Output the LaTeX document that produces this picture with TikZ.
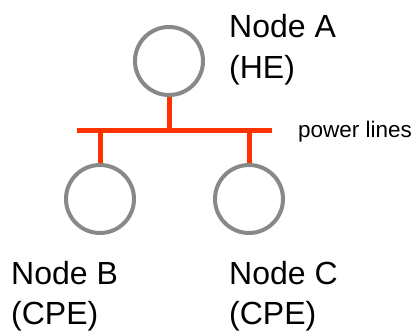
\documentclass[tikz,border=0pt]{standalone}
\usepackage{fontspec}
\setmainfont{Liberation Sans}
\definecolor{nodegray}{RGB}{136,136,136}
\definecolor{linered}{RGB}{255,51,0}
\begin{document}
\begin{tikzpicture}[x=1bp,y=-1bp,
  station/.style={circle,draw=nodegray,line width=4bp,minimum size=68bp,inner sep=0pt},
  wire/.style={draw=linered,line width=5bp},
  biglabel/.style={anchor=base west,inner sep=0pt,font=\fontsize{32bp}{38bp}\selectfont},
  smalllabel/.style={anchor=base west,inner sep=0pt,font=\fontsize{22.5bp}{27bp}\selectfont}]
  \useasboundingbox (0,0) rectangle (414,331);
  % stations
  \node[station] (A) at (169,61) {};
  \node[station] (B) at (100,199) {};
  \node[station] (C) at (249,199) {};
  % bus ends
  \coordinate (busL) at (77,130);
  \coordinate (busR) at (272,130);
  % power lines
  \draw[wire] (busL) -- (busR);
  \draw[wire] (A.south) -- (A.south |- busL);
  \draw[wire] (B.north) -- (B.north |- busL);
  \draw[wire] (C.north) -- (C.north |- busL);
  % labels
  \node[biglabel] (la1) at (229,37) {Node A};
  \node[biglabel] (la2) at (229,78) {(HE)};
  \node[biglabel] (lb1) at (11,284) {Node B};
  \node[biglabel] (lb2) at (11,324) {(CPE)};
  \node[biglabel] (lc1) at (229,284) {Node C};
  \node[biglabel] (lc2) at (229,324) {(CPE)};
  \node[smalllabel] (lp) at (298,137) {power lines};
\end{tikzpicture}
\end{document}
